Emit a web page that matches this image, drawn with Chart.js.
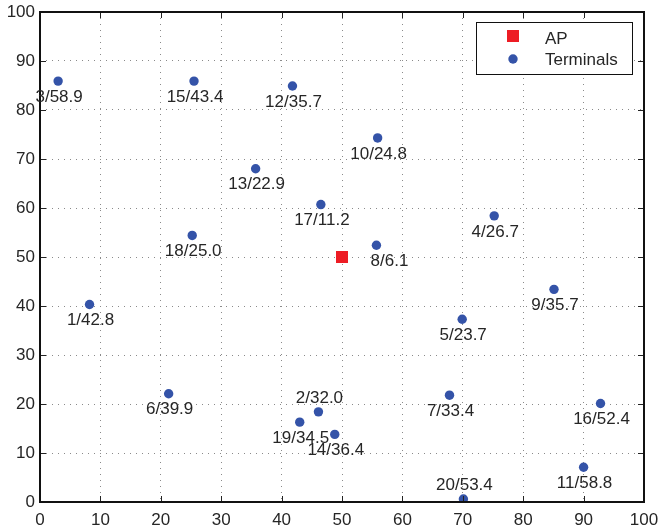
<!DOCTYPE html>
<html>
<head>
<meta charset="utf-8">
<script src="https://cdn.jsdelivr.net/npm/chart.js@4/dist/chart.umd.min.js"></script>
<style>
  html, body { margin: 0; padding: 0; background: #fff; }
  #wrap { width: 660px; height: 525px; position: relative; }
</style>
</head>
<body>
<div id="wrap"><canvas id="chart"></canvas></div>
<script>
// access point
const apX = [50];
const apY = [50];

// terminals: id, position and the value printed next to each one
const termIds = [1, 2, 3, 4, 5, 6, 7, 8, 9, 10, 11, 12, 13, 14, 15, 16, 17, 18, 19, 20];
const termX = [8.2, 46.1, 3.0, 75.2, 69.9, 21.3, 67.8, 55.7, 85.1, 55.9, 90.0, 41.8, 35.7, 48.8, 25.5, 92.8, 46.5, 25.2, 43.0, 70.1];
const termY = [40.3, 18.4, 85.9, 58.4, 37.3, 22.1, 21.8, 52.4, 43.4, 74.3, 7.1, 84.9, 68.0, 13.8, 85.9, 20.1, 60.7, 54.4, 16.3, 0.6];
const termVal = [42.8, 32.0, 58.9, 26.7, 23.7, 39.9, 33.4, 6.1, 35.7, 24.8, 58.8, 35.7, 22.9, 36.4, 43.4, 52.4, 11.2, 25.0, 34.5, 53.4];

const tickValues = [0, 10, 20, 30, 40, 50, 60, 70, 80, 90, 100];

// which labels sit above their marker, and which get nudged sideways
const labelsAbove = [2, 20];
const labelNudge = { 8: 12 };

const FONT = "'Liberation Sans', Arial, sans-serif";
const TEXT = '#262626';
const BLUE = '#3453a8';
const RED = '#ed1c24';

const apPoints = apX.map((x, i) => ({ x: x, y: apY[i] }));
const termPoints = termX.map((x, i) => ({ x: x, y: termY[i] }));

// MATLAB-like box with inward ticks on all sides
const framePlugin = {
    id: 'frame',
    afterDatasetsDraw(chart) {
        const { ctx, chartArea: a, scales } = chart;
        ctx.save();
        ctx.strokeStyle = '#222';
        ctx.lineWidth = 1;
        const len = 6;
        tickValues.forEach(v => {
            const px = Math.round(scales.x.getPixelForValue(v)) + 0.5;
            const py = Math.round(scales.y.getPixelForValue(v)) + 0.5;
            ctx.beginPath();
            ctx.moveTo(px, a.bottom); ctx.lineTo(px, a.bottom - len);
            ctx.moveTo(px, a.top); ctx.lineTo(px, a.top + len);
            ctx.moveTo(a.left, py); ctx.lineTo(a.left + len, py);
            ctx.moveTo(a.right, py); ctx.lineTo(a.right - len, py);
            ctx.stroke();
        });
        ctx.strokeStyle = '#111';
        ctx.lineWidth = 2;
        ctx.strokeRect(a.left, a.top, a.right - a.left, a.bottom - a.top);
        ctx.restore();
    }
};

// "id/value" text beside each terminal
const labelPlugin = {
    id: 'termLabels',
    afterDatasetsDraw(chart) {
        const { ctx } = chart;
        const meta = chart.getDatasetMeta(1);
        ctx.save();
        ctx.font = '17px ' + FONT;
        ctx.fillStyle = TEXT;
        ctx.textAlign = 'center';
        ctx.textBaseline = 'middle';
        meta.data.forEach((pt, i) => {
            const id = termIds[i];
            const txt = id + '/' + termVal[i].toFixed(1);
            const dy = labelsAbove.includes(id) ? -14 : 16;
            const dx = (labelNudge[id] || 0) + 1;
            ctx.fillText(txt, pt.x + dx, pt.y + dy);
        });
        ctx.restore();
    }
};

// boxed legend inside the top right corner of the plot
const legendPlugin = {
    id: 'boxLegend',
    afterDraw(chart) {
        const { ctx, chartArea: a } = chart;
        const w = 156, h = 52;
        const x0 = a.right - 12 - w, y0 = a.top + 10;
        ctx.save();
        ctx.fillStyle = '#fff';
        ctx.fillRect(x0, y0, w, h);
        ctx.strokeStyle = '#111';
        ctx.lineWidth = 1;
        ctx.strokeRect(x0 + 0.5, y0 + 0.5, w, h);

        ctx.fillStyle = RED;
        ctx.fillRect(x0 + 31, y0 + 8, 12, 12);
        ctx.fillStyle = BLUE;
        ctx.beginPath();
        ctx.arc(x0 + 37, y0 + 37, 4.7, 0, Math.PI * 2);
        ctx.fill();

        ctx.font = '17px ' + FONT;
        ctx.fillStyle = TEXT;
        ctx.textAlign = 'left';
        ctx.textBaseline = 'middle';
        ctx.fillText(chart.data.datasets[0].label, x0 + 69, y0 + 17);
        ctx.fillText(chart.data.datasets[1].label, x0 + 69, y0 + 38);
        ctx.restore();
    }
};

// keep the plot box fixed; edge tick labels may spill into the margin
function fixPadding(s) {
    s.paddingLeft = 0;
    s.paddingRight = 0;
    s.paddingTop = 0;
    s.paddingBottom = 0;
}

const gridStyle = {
    color: '#8a8a8a',
    lineWidth: 1,
    drawTicks: false
};

new Chart(document.getElementById('chart'), {
    type: 'scatter',
    data: {
        datasets: [
            {
                label: 'AP',
                data: apPoints,
                pointStyle: 'rect',
                pointRadius: 8.5,
                pointHoverRadius: 8.5,
                backgroundColor: RED,
                borderWidth: 0
            },
            {
                label: 'Terminals',
                data: termPoints,
                pointStyle: 'circle',
                pointRadius: 4.7,
                pointHoverRadius: 4.7,
                backgroundColor: BLUE,
                borderWidth: 0
            }
        ]
    },
    options: {
        responsive: true,
        maintainAspectRatio: false,
        animation: false,
        devicePixelRatio: 1,
        layout: { padding: { left: 0, top: 12, right: 16, bottom: 0 } },
        plugins: {
            legend: { display: false },
            tooltip: { enabled: false }
        },
        scales: {
            x: {
                type: 'linear',
                min: 0,
                max: 100,
                afterFit: s => { s.height = 23; fixPadding(s); },
                grid: gridStyle,
                border: { display: false, dash: [1, 5] },
                ticks: {
                    stepSize: 10,
                    padding: 8,
                    color: TEXT,
                    font: { family: FONT, size: 17 },
                    maxRotation: 0
                }
            },
            y: {
                type: 'linear',
                min: 0,
                max: 100,
                afterFit: s => { s.width = 40; fixPadding(s); },
                grid: gridStyle,
                border: { display: false, dash: [1, 5] },
                ticks: {
                    stepSize: 10,
                    padding: 5,
                    color: TEXT,
                    font: { family: FONT, size: 17 }
                }
            }
        }
    },
    plugins: [framePlugin, labelPlugin, legendPlugin]
});
</script>
</body>
</html>
